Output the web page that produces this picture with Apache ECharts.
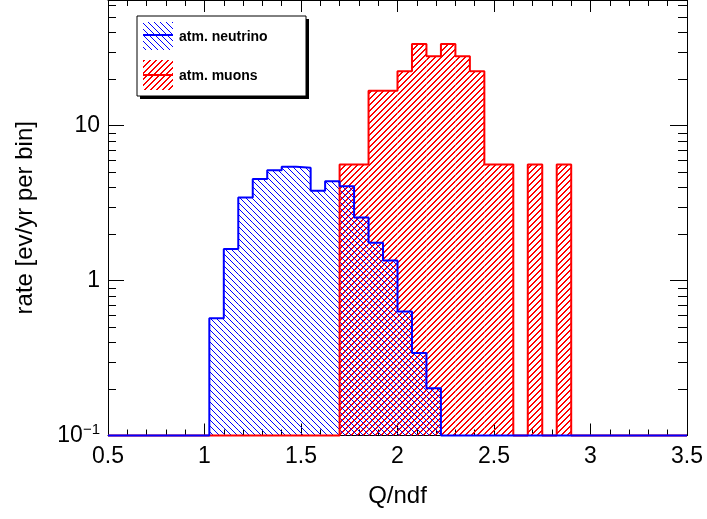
<!DOCTYPE html>
<html>
<head>
<meta charset="utf-8">
<script src="https://cdn.jsdelivr.net/npm/echarts@6/dist/echarts.min.js"></script>
<style>html,body{margin:0;padding:0;background:#fff}#c{width:707px;height:519px}</style>
</head>
<body>
<div id="c"></div>
<script>
// ---- data ----
const xLow = 0.5;
const binWidth = 0.075;
const xTickLabels = ['0.5', '1', '1.5', '2', '2.5', '3', '3.5'];
const neutrino = [0,0,0,0,0,0,0, 0.57,1.6,3.43,4.52,5.14,5.42,5.34,3.80,4.37,4.06,2.55,1.75,1.345,0.632,0.341,0.202, 0,0,0,0,0,0,0,0,0,0,0,0,0,0,0,0,0];
const muons = [0,0,0,0,0,0,0,0,0,0,0,0,0,0,0,0, 5.6,5.6,16.8,16.8,22.4,33.6,28,33.6,28,22.4,5.6,5.6,0,5.6,0,5.6, 0,0,0,0,0,0,0,0];
const yMinorTicks = [0.2,0.3,0.4,0.5,0.6,0.7,0.8,0.9,2,3,4,5,6,7,8,9,20,30,40,50,60];
const seriesNames = ['atm. neutrino', 'atm. muons'];

const yMin = 0.1, yMax = 64.6;
const FONT = 'Liberation Sans, Arial, Helvetica, sans-serif';

// pixel hatch tile; dir>0: "\\\", dir<0: "///"; w = pixels per row of the stroke
function hatch(rgb, dir, w) {
  const n = 6;
  const cv = document.createElement('canvas');
  cv.width = n; cv.height = n;
  const ctx = cv.getContext('2d');
  const img = ctx.createImageData(n, n);
  for (let i = 0; i < n; i++) {
    const y = dir > 0 ? i : n - 1 - i;
    for (let j = 0; j < w; j++) {
      const x = (i + j) % n;
      const o = (y * n + x) * 4;
      img.data[o] = rgb[0]; img.data[o + 1] = rgb[1]; img.data[o + 2] = rgb[2]; img.data[o + 3] = 255;
    }
  }
  ctx.putImageData(img, 0, 0);
  return { image: cv, repeat: 'repeat' };
}
const bluePat = hatch([0, 0, 255], 1, 1);
const redPat = hatch([255, 0, 0], -1, 2);

function bins(vals) {
  const out = [];
  vals.forEach((v, k) => { if (v > 0) out.push([xLow + k * binWidth, xLow + (k + 1) * binWidth, v]); });
  return out;
}
function outline(vals) {
  const pts = [];
  vals.forEach((v, k) => {
    const y = v > 0 ? v : yMin;
    pts.push([xLow + k * binWidth, y]);
    pts.push([xLow + (k + 1) * binWidth, y]);
  });
  return pts;
}
function fillSeries(vals, pat) {
  return {
    type: 'custom',
    xAxisIndex: 0, yAxisIndex: 0,
    data: bins(vals),
    encode: { x: [0, 1], y: 2 },
    silent: true,
    renderItem: function (params, api) {
      const p0 = api.coord([api.value(0), api.value(2)]);
      const p1 = api.coord([api.value(1), yMin]);
      return {
        type: 'rect',
        shape: { x: p0[0], y: p0[1], width: p1[0] - p0[0], height: p1[1] - p0[1] },
        style: { fill: pat, stroke: null }
      };
    }
  };
}
function lineSeries(vals, color) {
  return {
    type: 'line', xAxisIndex: 0, yAxisIndex: 0,
    data: outline(vals), symbol: 'none', clip: false, silent: true,
    lineStyle: { color: color, width: 2 }
  };
}

const chart = echarts.init(document.getElementById('c'), null, { renderer: 'canvas' });
const axisLine = { show: true, lineStyle: { color: '#000', width: 1 } };
chart.setOption({
  animation: false,
  backgroundColor: '#fff',
  grid: { left: 108, right: 20, top: -2, bottom: 83.5, show: false },
  xAxis: [{
    type: 'value', min: 0.5, max: 3.5, interval: 0.5, position: 'bottom',
    axisLine: axisLine,
    axisTick: { show: true, inside: true, length: 12, lineStyle: { color: '#000' } },
    minorTick: { show: true, splitNumber: 5, length: 6, lineStyle: { color: '#000' } },
    splitLine: { show: false },
    axisLabel: { color: '#000', fontSize: 23, fontFamily: FONT, margin: 10,
      formatter: v => xTickLabels[Math.round((v - 0.5) / 0.5)] },
    name: 'Q/ndf', nameLocation: 'middle', nameGap: 49,
    nameTextStyle: { color: '#000', fontSize: 24, fontFamily: FONT }
  }, {
    type: 'value', min: 0.5, max: 3.5, interval: 0.5, position: 'top',
    axisLine: axisLine,
    axisTick: { show: true, inside: true, length: 12, lineStyle: { color: '#000' } },
    minorTick: { show: true, splitNumber: 5, length: 6, lineStyle: { color: '#000' } },
    splitLine: { show: false }, axisLabel: { show: false }
  }],
  yAxis: [{
    type: 'log', min: yMin, max: yMax, position: 'left',
    axisLine: axisLine,
    axisTick: { show: true, inside: true, length: 16, lineStyle: { color: '#000' } },
    splitLine: { show: false },
    axisLabel: {
      color: '#000', fontSize: 23, fontFamily: FONT, margin: 8, showMaxLabel: false,
      formatter: function (v) {
        if (Math.abs(v - 0.1) < 1e-6) return '{m|10}{s|\u22121}';
        if (Math.abs(v - 1) < 1e-6) return '1';
        if (Math.abs(v - 10) < 1e-6) return '10';
        return '';
      },
      rich: {
        m: { fontSize: 23, fontFamily: FONT, color: '#000', lineHeight: 26 },
        s: { fontSize: 15, fontFamily: FONT, color: '#000', lineHeight: 15, verticalAlign: 'top' }
      }
    },
    name: 'rate [ev/yr per bin]', nameLocation: 'middle', nameGap: 71, nameRotate: 90,
    nameTextStyle: { color: '#000', fontSize: 24, fontFamily: FONT }
  }, {
    type: 'log', min: yMin, max: yMax, position: 'right',
    axisLine: axisLine,
    axisTick: { show: true, inside: true, length: 17, lineStyle: { color: '#000' } },
    splitLine: { show: false }, axisLabel: { show: false }
  }],
  series: [
    fillSeries(muons, redPat),
    lineSeries(muons, '#ff0000'),
    fillSeries(neutrino, bluePat),
    lineSeries(neutrino, '#0000ff'),
    {
      type: 'custom', xAxisIndex: 0, yAxisIndex: 0, silent: true, clip: false,
      data: yMinorTicks.map(v => [0.5, v]),
      encode: { x: 0, y: 1 },
      renderItem: function (params, api) {
        const p = api.coord([0.5, api.value(1)]);
        const cs = params.coordSys;
        const y = Math.round(p[1]) + 0.5;
        return {
          type: 'group',
          children: [
            { type: 'line', shape: { x1: cs.x, y1: y, x2: cs.x + 8, y2: y }, style: { stroke: '#000', lineWidth: 1 } },
            { type: 'line', shape: { x1: cs.x + cs.width - 9, y1: y, x2: cs.x + cs.width, y2: y }, style: { stroke: '#000', lineWidth: 1 } }
          ]
        };
      }
    }
  ],
  graphic: [
    { type: 'rect', shape: { x: 140, y: 19, width: 169, height: 80 }, style: { fill: '#000' }, z: 10 },
    { type: 'rect', shape: { x: 137, y: 16, width: 169, height: 80 }, style: { fill: '#fff', stroke: '#000', lineWidth: 1 }, z: 11 },
    { type: 'rect', shape: { x: 143, y: 22, width: 30, height: 28 }, style: { fill: bluePat }, z: 12 },
    { type: 'line', shape: { x1: 143, y1: 35, x2: 173, y2: 35 }, style: { stroke: '#0000ff', lineWidth: 2 }, z: 12 },
    { type: 'text', x: 179, y: 37, style: { text: seriesNames[0], font: 'bold 14px ' + FONT, fill: '#000', verticalAlign: 'middle' }, z: 12 },
    { type: 'rect', shape: { x: 143, y: 60, width: 30, height: 30 }, style: { fill: redPat }, z: 12 },
    { type: 'line', shape: { x1: 143, y1: 75, x2: 173, y2: 75 }, style: { stroke: '#ff0000', lineWidth: 2 }, z: 12 },
    { type: 'text', x: 179, y: 76, style: { text: seriesNames[1], font: 'bold 14px ' + FONT, fill: '#000', verticalAlign: 'middle' }, z: 12 }
  ]
});
</script>
</body>
</html>
